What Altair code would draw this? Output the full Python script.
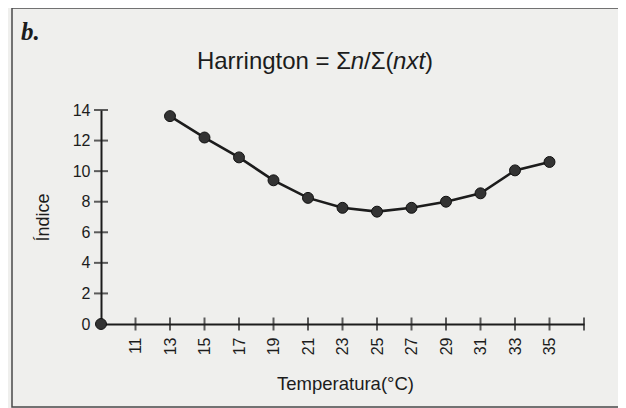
import altair as alt
import pandas as pd

# data
temps = [13, 15, 17, 19, 21, 23, 25, 27, 29, 31, 33, 35]
indice = [13.6, 12.2, 10.9, 9.4, 8.25, 7.6, 7.35, 7.6, 8.0, 8.55, 10.05, 10.6]
origin_t = [9]
origin_i = [0]
x_tick_vals = [11, 13, 15, 17, 19, 21, 23, 25, 27, 29, 31, 33, 35, 37]
x_label_vals = [11, 13, 15, 17, 19, 21, 23, 25, 27, 29, 31, 33, 35]
y_tick_vals = [2, 4, 6, 8, 10, 12, 14]
y_label_vals = [0, 2, 4, 6, 8, 10, 12, 14]

FONT = "Liberation Sans"
INK = "#1c1c1c"

df = pd.DataFrame({"t": temps, "i": indice})
df0 = pd.DataFrame({"t": origin_t, "i": origin_i})
dfx = pd.DataFrame({"t": x_tick_vals, "i": [0] * len(x_tick_vals)})
dfy = pd.DataFrame({"t": [9] * len(y_tick_vals), "i": y_tick_vals})
one = pd.DataFrame({"a": [0]})

xs = alt.Scale(domain=[9, 37], nice=False, zero=False)
ys = alt.Scale(domain=[0, 14], nice=False)

xaxis = alt.Axis(values=x_label_vals, labelAngle=270, ticks=False, grid=False,
                 domainColor=INK, domainWidth=2, labelFontSize=16, labelFont=FONT,
                 labelColor=INK, labelPadding=13, labelFlush=False, labelOverlap=False,
                 title="Temperatura(°C)", titleFont=FONT, titleFontSize=18.5,
                 titleFontWeight="normal", titleColor=INK, titleX=244, titleY=59,
                 titleBaseline="middle", titleAlign="center")
yaxis = alt.Axis(values=y_label_vals, ticks=False, grid=False,
                 domainColor=INK, domainWidth=2, labelFontSize=16, labelFont=FONT,
                 labelColor=INK, labelPadding=11, labelFlush=False, labelOverlap=False,
                 title="Índice", titleFont=FONT, titleFontSize=18,
                 titleFontWeight="normal", titleColor=INK, titleX=-58, titleY=107,
                 titleBaseline="middle", titleAlign="center", titleAngle=270)

X = alt.X("t:Q", scale=xs, axis=xaxis)
Y = alt.Y("i:Q", scale=ys, axis=yaxis)

frame = alt.Chart(one).mark_rect(fillOpacity=0, stroke="#4a4a4a", strokeWidth=1.5).encode(
    x=alt.value(-89), x2=alt.value(521), y=alt.value(-102), y2=alt.value(297))

line = alt.Chart(df).mark_line(color=INK, strokeWidth=2.6).encode(x=X, y=Y)

pts = alt.Chart(df).mark_point(filled=True, size=120, color="#333333", stroke="#111111",
                               strokeWidth=1, opacity=1).encode(x=X, y=Y)

org = alt.Chart(df0).mark_point(filled=True, size=120, color="#333333", stroke="#111111",
                                strokeWidth=1, opacity=1).encode(x=X, y=Y)

xt = alt.Chart(dfx).mark_tick(orient="vertical", size=13, thickness=2, color=INK).encode(x=X, y=Y)
yt = alt.Chart(dfy).mark_tick(orient="horizontal", size=14, thickness=2, color=INK).encode(x=X, y=Y)

# title pieces (mixed roman / italic)
F = 24
W = F / 1000.0
pieces = [("Harrington = Σ", "normal", 6408), ("n", "italic", 556), ("/Σ(", "normal", 1211),
          ("nxt", "italic", 1334), (")", "normal", 333)]
total = sum(p[2] for p in pieces) * W
x0 = (315 - 101) - total / 2
texts = []
cx = x0
for txt, style, w in pieces:
    texts.append(alt.Chart(one).mark_text(text=txt, font=FONT, fontSize=F, fontStyle=style,
                                          align="left", baseline="middle", color=INK).encode(
        x=alt.value(cx), y=alt.value(-48)))
    cx += w * W

blabel = alt.Chart(one).mark_text(text="b.", font="Liberation Serif", fontSize=25,
                                  fontStyle="italic", fontWeight="bold", align="left",
                                  baseline="middle", color=INK).encode(
    x=alt.value(-80), y=alt.value(-78))

chart = alt.layer(frame, line, pts, xt, yt, org, blabel, *texts).properties(
    width=483, height=214,
    padding={"left": 93, "top": 102, "right": 34, "bottom": 84},
    autosize=alt.AutoSizeParams(type="none"),
    background="#efefed",
).configure_view(stroke=None)

chart.save("out.html", embed_options={"renderer": "svg", "actions": False})
